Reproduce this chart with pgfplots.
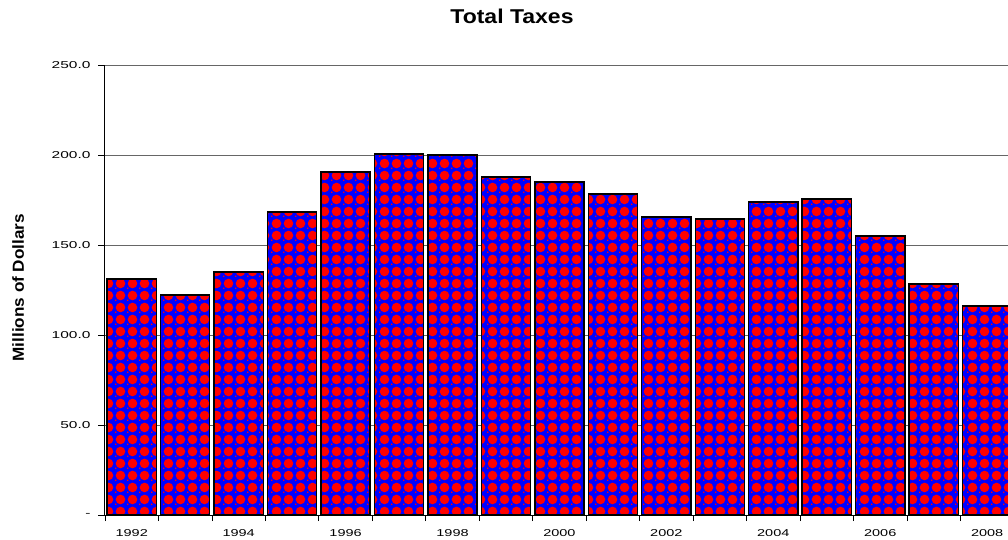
\documentclass[border=0pt]{standalone}
\usepackage{fontspec}
\setmainfont{Liberation Sans}
\usepackage{graphicx}
\usepackage{pgfplots}
\pgfplotsset{compat=1.18}
\usetikzlibrary{patterns}
\newcommand\sx[1]{\scalebox{1.45}[1]{#1}}
\newcommand\sy[1]{\scalebox{1.55}[1]{#1}}
\pgfdeclarepatternformonly{redcircles}{\pgfqpoint{0pt}{0pt}}{\pgfqpoint{11.5pt}{11.5pt}}{\pgfqpoint{11.5pt}{11.5pt}}{%
  \pgfpathcircle{\pgfqpoint{5.75pt}{5.75pt}}{5pt}\pgfusepath{fill}%
  \pgfpathrectangle{\pgfqpoint{0pt}{0pt}}{\pgfqpoint{1.5pt}{1.5pt}}\pgfusepath{fill}%
}
\begin{document}
\begin{tikzpicture}
\begin{axis}[
  at={(0pt,0pt)}, anchor=south west,
  scale only axis, width=903pt, height=450pt,
  ybar, bar width=0.92,
  xmin=1991.5, xmax=2008.39,
  ymin=0, ymax=250,
  axis x line*=bottom, axis y line*=left,
  axis line style={black, line width=1pt},
  ymajorgrids, grid style={gray!80!black, line width=0.8pt},
  xtick={1992,1994,...,2008},
  xticklabels={\sx{1992},\sx{1994},\sx{1996},\sx{1998},\sx{2000},\sx{2002},\sx{2004},\sx{2006},\sx{2008}},
  minor xtick={1991.5,1992.5,...,2008.5},
  major x tick style={draw=none},
  minor x tick style={black, line width=0.8pt},
  ytick={0,50,...,250},
  yticklabels={\sy{-},\sy{50.0},\sy{100.0},\sy{150.0},\sy{200.0},\sy{250.0}},
  y tick style={black, line width=0.8pt},
  tick align=outside, major tick length=7pt, minor tick length=6pt,
  tick label style={font=\fontsize{10}{12}\selectfont},
  xticklabel style={yshift=-4pt},
  yticklabel style={xshift=-4pt},
  title={\scalebox{1.15}[1]{Total Taxes}},
  title style={font=\fontsize{20}{22}\selectfont\bfseries, at={(rel axis cs:0.4507,1.095)}, anchor=center},
  ylabel={\scalebox{1.07}[1]{Millions of Dollars}},
  ylabel style={font=\fontsize{16}{18}\selectfont\bfseries, at={(rel axis cs:-0.0963,0.505)}, anchor=center},
]
\addplot[draw=black, line width=1.4pt, fill=blue, postaction={pattern=redcircles, pattern color=red}]
coordinates {
(1992,131.1) (1993,122.2) (1994,135.0) (1995,168.3) (1996,190.6) (1997,200.6)
(1998,200.0) (1999,187.8) (2000,185.0) (2001,178.3) (2002,165.6) (2003,164.4)
(2004,173.9) (2005,175.6) (2006,155.0) (2007,128.3) (2008,116.1)
};
\end{axis}
\pgfresetboundingbox
\path[use as bounding box] (-105pt,-24pt) rectangle (903pt,515pt);
\end{tikzpicture}
\end{document}
